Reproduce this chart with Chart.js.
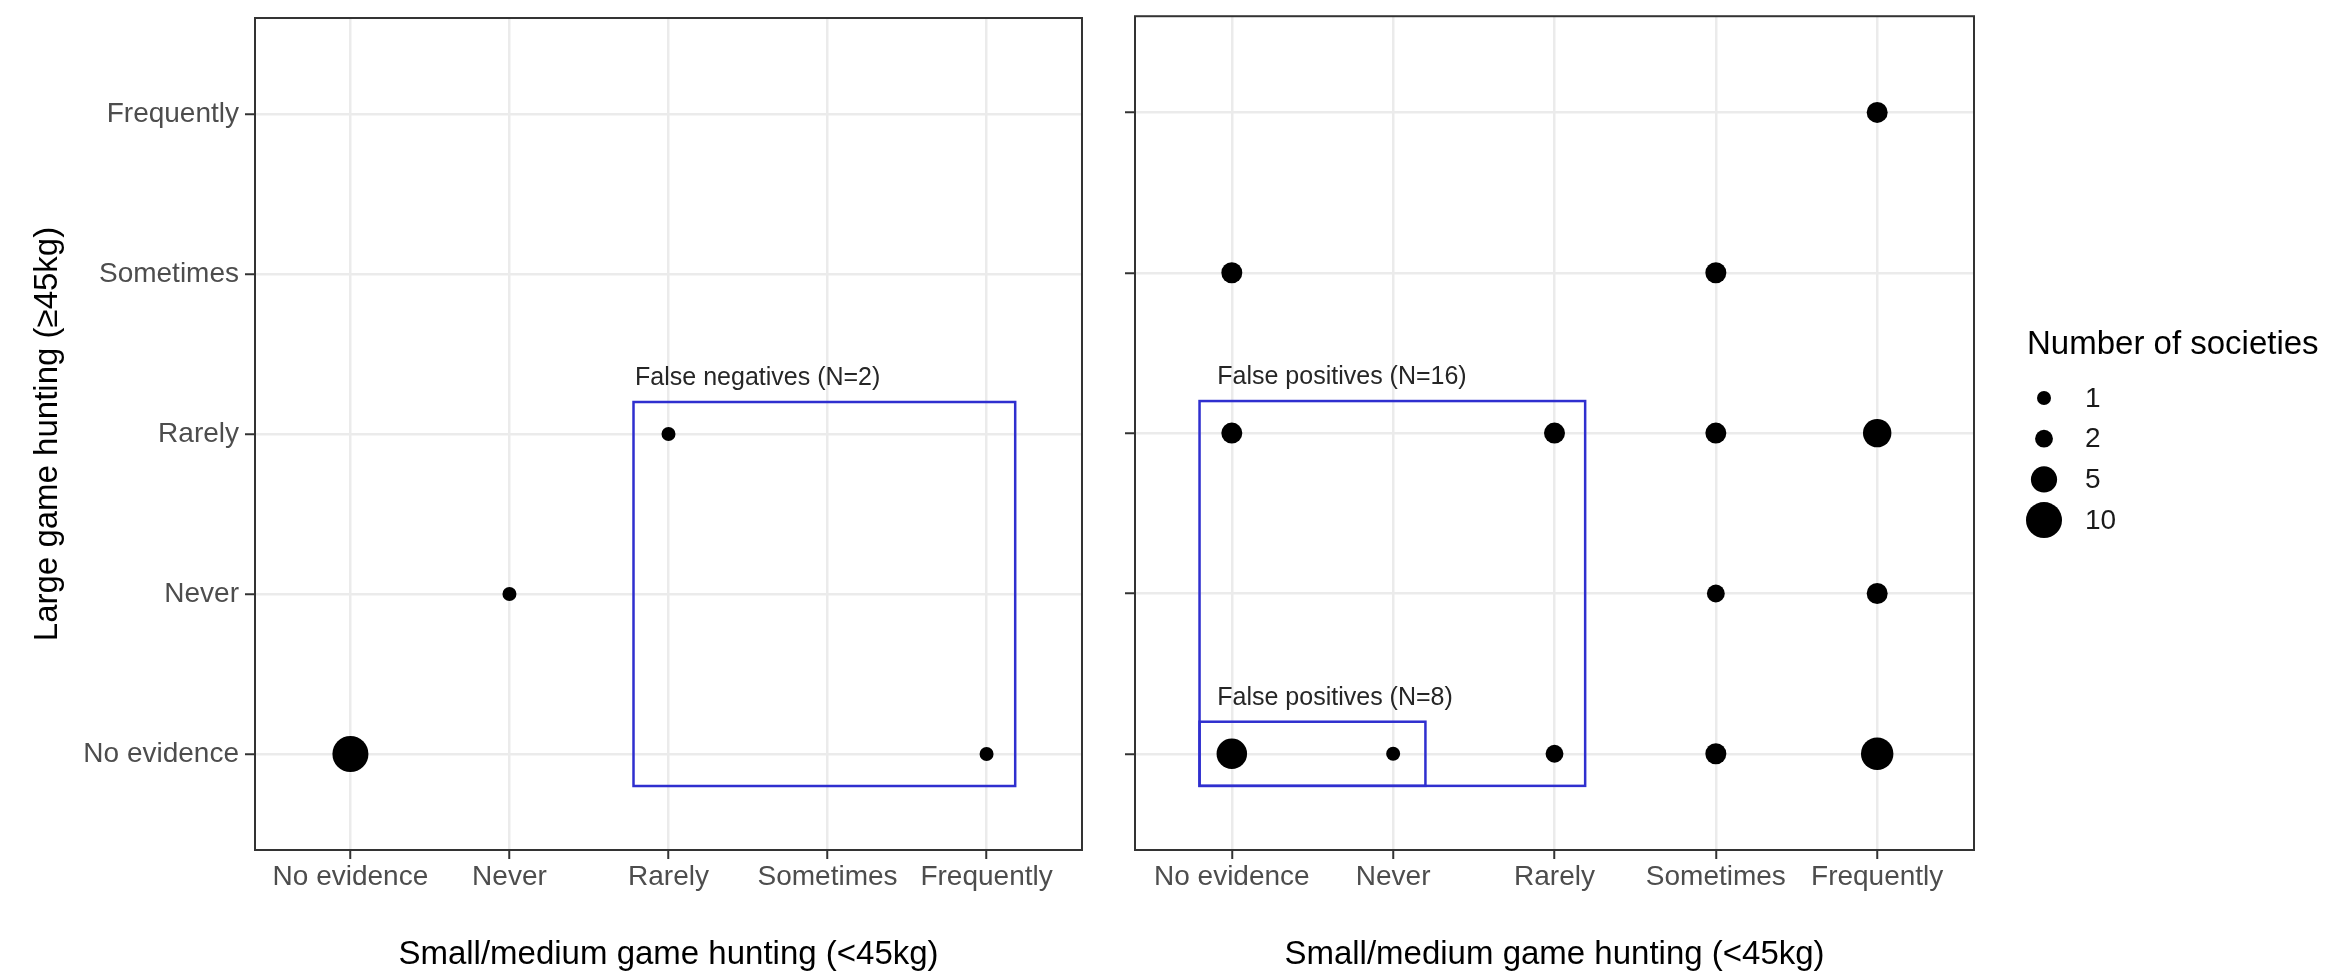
<!DOCTYPE html>
<html>
<head>
<meta charset="utf-8">
<script src="https://cdn.jsdelivr.net/npm/chart.js@4.4.1/dist/chart.umd.min.js"></script>
<style>
  html, body { margin: 0; padding: 0; background: #fff; }
  #wrap { position: relative; width: 2334px; height: 976px; background: #fff; }
  canvas { position: absolute; top: 0; }
  #left { left: 0; }
  #right { left: 1100px; }
</style>
</head>
<body>
<div id="wrap">
  <canvas id="left" width="1100" height="976"></canvas>
  <canvas id="right" width="1234" height="976"></canvas>
</div>
<script>
// categories used on both axes
const levels = ["No evidence", "Never", "Rarely", "Sometimes", "Frequently"];

// left panel: small/medium hunting, large hunting, number of societies
const leftSmall = ["No evidence", "Never", "Rarely", "Frequently"];
const leftLarge = ["No evidence", "Never", "Rarely", "No evidence"];
const leftCount = [10, 1, 1, 1];

// right panel
const rightSmall = ["No evidence", "No evidence", "No evidence", "Never", "Rarely", "Rarely",
                    "Sometimes", "Sometimes", "Sometimes", "Sometimes",
                    "Frequently", "Frequently", "Frequently", "Frequently"];
const rightLarge = ["Sometimes", "Rarely", "No evidence", "No evidence", "Rarely", "No evidence",
                    "Sometimes", "Rarely", "Never", "No evidence",
                    "Frequently", "Rarely", "Never", "No evidence"];
const rightCount = [3, 3, 7, 1, 3, 2,
                    3, 3, 2, 3,
                    3, 6, 3, 8];

const legendBreaks = [1, 2, 5, 10];

// highlighted regions (axis units, 0 = "No evidence")
const leftBoxes = [
  { x: [1.78, 4.18], y: [-0.2, 2.2], text: "False negatives (N=2)", tx: 1.79, ty: 2.35 }
];
const rightBoxes = [
  { x: [-0.2, 2.19], y: [-0.2, 2.2], text: "False positives (N=16)", tx: -0.09, ty: 2.35 },
  { x: [-0.2, 1.2], y: [-0.2, 0.2], text: "False positives (N=8)", tx: -0.09, ty: 0.35 }
];

const family = "'Liberation Sans', Arial, Helvetica, sans-serif";

// area-style size scale
function radius(n) {
  return Math.sqrt(18.4 + 30.6 * n);
}

function toPoints(xs, ys, ns) {
  return xs.map((s, i) => ({ x: levels.indexOf(s), y: levels.indexOf(ys[i]), n: ns[i] }));
}

const boxPlugin = {
  id: "boxes",
  afterDatasetsDraw(chart, args, opts) {
    const ctx = chart.ctx;
    const sx = chart.scales.x, sy = chart.scales.y;
    ctx.save();
    (opts.items || []).forEach(b => {
      const l = sx.getPixelForValue(b.x[0]), r = sx.getPixelForValue(b.x[1]);
      const t = sy.getPixelForValue(b.y[1]), bt = sy.getPixelForValue(b.y[0]);
      ctx.strokeStyle = "#2f2fcf";
      ctx.lineWidth = 2.5;
      ctx.strokeRect(l, t, r - l, bt - t);
      ctx.fillStyle = "#262626";
      ctx.font = "25px " + family;
      ctx.textAlign = "left";
      ctx.textBaseline = "middle";
      ctx.fillText(b.text, sx.getPixelForValue(b.tx), sy.getPixelForValue(b.ty));
    });
    const a = chart.chartArea;
    ctx.strokeStyle = "#333333";
    ctx.lineWidth = 2;
    ctx.strokeRect(a.left, a.top, a.right - a.left, a.bottom - a.top);
    ctx.restore();
  }
};

const sizeLegend = {
  id: "sizeLegend",
  afterDraw(chart) {
    const ctx = chart.ctx;
    const x0 = chart.chartArea.right + 53;
    ctx.save();
    ctx.fillStyle = "#000";
    ctx.textAlign = "left";
    ctx.textBaseline = "middle";
    ctx.font = "33px " + family;
    ctx.fillText("Number of societies", x0, 345);
    legendBreaks.forEach((v, i) => {
      const cy = 398 + i * 40.7;
      ctx.fillStyle = "#000";
      ctx.beginPath();
      ctx.arc(x0 + 17, cy, radius(v), 0, Math.PI * 2);
      ctx.fill();
      ctx.fillStyle = "#1a1a1a";
      ctx.font = "28px " + family;
      ctx.fillText(String(v), x0 + 58, cy + 1);
    });
    ctx.restore();
  }
};

function makeScales(showY, yWidth) {
  return {
    x: {
      type: "linear",
      min: -0.6,
      max: 4.6,
      afterBuildTicks: s => { s.ticks = levels.map((_, i) => ({ value: i })); },
      afterFit: s => { s.height = 126; s.paddingLeft = 0; s.paddingRight = 0; },
      border: { display: false },
      grid: { color: "#ebebeb", lineWidth: 2.5, tickLength: 9, tickColor: "#333333", tickWidth: 2 },
      ticks: {
        callback: v => levels[v],
        color: "#4d4d4d",
        font: { size: 28, family: family },
        padding: 1,
        maxRotation: 0,
        autoSkip: false
      },
      title: {
        display: true,
        text: "Small/medium game hunting (<45kg)",
        color: "#000",
        font: { size: 33, family: family },
        padding: { top: 0, bottom: 1 }
      }
    },
    y: {
      type: "linear",
      min: -0.6,
      max: 4.6,
      afterBuildTicks: s => { s.ticks = levels.map((_, i) => ({ value: i })); },
      afterFit: s => { s.width = yWidth; s.paddingTop = 0; s.paddingBottom = 0; },
      border: { display: false },
      grid: { color: "#ebebeb", lineWidth: 2.5, tickLength: 10, tickColor: "#333333", tickWidth: 2 },
      ticks: {
        display: showY,
        callback: v => levels[v],
        color: "#4d4d4d",
        font: { size: 28, family: family },
        padding: 6,
        autoSkip: false
      },
      title: {
        display: showY,
        text: "Large game hunting (≥45kg)",
        color: "#000",
        font: { size: 33, family: family },
        padding: { top: 28 }
      }
    }
  };
}

function makeChart(id, points, boxes, showY, yWidth, rightPad, extra) {
  return new Chart(document.getElementById(id).getContext("2d"), {
    type: "scatter",
    data: {
      datasets: [{
        data: points,
        pointRadius: c => radius(c.raw.n),
        pointHoverRadius: c => radius(c.raw.n),
        pointBackgroundColor: "#000",
        pointBorderWidth: 0
      }]
    },
    options: {
      responsive: false,
      devicePixelRatio: 1,
      animation: false,
      events: [],
      layout: { padding: { top: 16, right: rightPad, left: 0, bottom: 0 } },
      scales: makeScales(showY, yWidth),
      plugins: {
        legend: { display: false },
        tooltip: { enabled: false },
        boxes: { items: boxes }
      }
    },
    plugins: [boxPlugin].concat(extra)
  });
}

makeChart("left", toPoints(leftSmall, leftLarge, leftCount), leftBoxes, true, 255, 6, []);
makeChart("right", toPoints(rightSmall, rightLarge, rightCount), rightBoxes, false, 35, 360, [sizeLegend]);
</script>
</body>
</html>
